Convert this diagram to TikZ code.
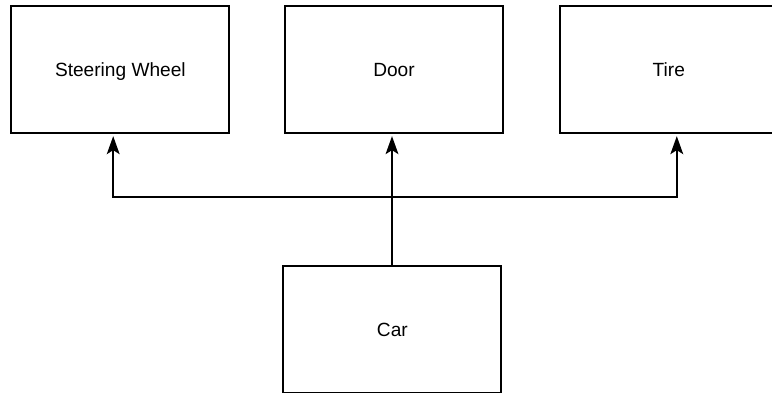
\documentclass[tikz,border=0pt]{standalone}
\usepackage{fontspec}
\setmainfont{Liberation Sans}
\usepackage{tikz}
\usetikzlibrary{arrows.meta,positioning}

\begin{document}
\begin{tikzpicture}[
    part/.style={draw,line width=1.5pt,minimum width=5.45cm,minimum height=3.175cm,
        text depth=0pt,font=\fontsize{13.6}{16}\selectfont},
    link/.style={line width=1.1pt,-{Stealth[length=0.45cm,width=0.32cm,inset=0.1cm]},shorten >=0.05cm}
]
    \useasboundingbox (0,0) rectangle (19.3,9.8);

    \node[part] (steer) at (3.01,8.06) {Steering Wheel};
    \node[part] (door) at (9.85,8.06) {Door};
    \node[part] (tire) at (16.72,8.06) {Tire};
    \node[part] (car) at (9.81,1.56) {Car};

    \coordinate (hub) at (9.8,4.875);

    \draw[link] (car.north -| hub) -- (hub |- door.south);
    \draw[link] (hub) -| ([xshift=-0.18cm]steer.south);
    \draw[link] (hub) -| ([xshift=0.2cm]tire.south);
\end{tikzpicture}
\end{document}
